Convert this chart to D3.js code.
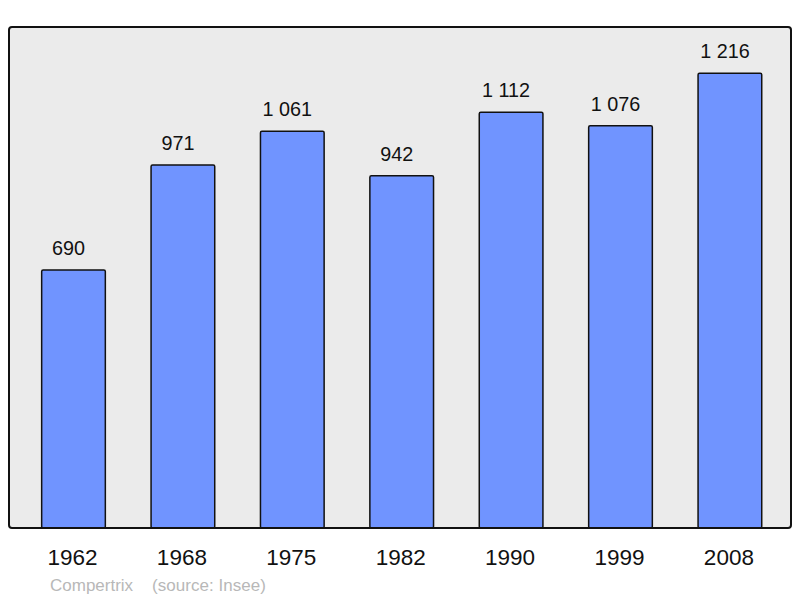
<!DOCTYPE html>
<html><head><meta charset="utf-8">
<script src="https://cdn.jsdelivr.net/npm/d3@7"></script>
<style>body{margin:0;background:#fff}svg{display:block}</style>
</head><body>
<svg id="c" width="800" height="598"></svg>
<script>
const years = ["1962","1968","1975","1982","1990","1999","2008"];
const population = [690, 971, 1061, 942, 1112, 1076, 1216];
const credits = ["Compertrix", "(source: Insee)"];

const svg = d3.select("#c");
const frame = {x0: 9, y0: 27, x1: 791, y1: 528};
const fmt = v => d3.format(",")(v).replace(/,/g, " ");

svg.append("rect").attr("x", frame.x0).attr("y", frame.y0)
  .attr("width", frame.x1 - frame.x0).attr("height", frame.y1 - frame.y0)
  .attr("rx", 3).attr("fill", "#ebebeb");

const x = d3.scaleBand().domain(years).range([18.8, 784.6]).paddingInner(0.418).paddingOuter(0.209);
const y = d3.scaleLinear().domain([0, 1340]).range([frame.y1, frame.y0]);

svg.selectAll("rect.bar").data(years).enter().append("rect")
  .attr("class", "bar")
  .attr("x", d => x(d)).attr("width", x.bandwidth())
  .attr("y", (d, i) => y(population[i])).attr("height", (d, i) => y(0) - y(population[i]))
  .attr("rx", 1.5)
  .attr("fill", "#7094ff").attr("stroke", "#111").attr("stroke-width", 1.5);

svg.selectAll("text.val").data(years).enter().append("text")
  .attr("x", d => x(d) + x.bandwidth() / 2 - 5)
  .attr("y", (d, i) => y(population[i]) - 15)
  .attr("text-anchor", "middle")
  .attr("font-family", "Liberation Sans, Arial, sans-serif").attr("font-size", 19.8)
  .attr("fill", "#111").text((d, i) => fmt(population[i]));

// axis labels
const ax = svg.append("g").attr("transform", `translate(0,${frame.y1})`)
  .call(d3.axisBottom(x).tickSize(0).tickPadding(0));
ax.select(".domain").remove();
ax.selectAll("text").attr("dy", 0).attr("y", 37).attr("x", -1)
  .attr("font-family", "Liberation Sans, Arial, sans-serif").attr("font-size", 22.5).attr("fill", "#111");

// frame border
svg.append("rect").attr("x", frame.x0).attr("y", frame.y0)
  .attr("width", frame.x1 - frame.x0).attr("height", frame.y1 - frame.y0)
  .attr("rx", 3).attr("fill", "none").attr("stroke", "#111").attr("stroke-width", 2);

svg.append("text").attr("x", 50).attr("y", 590.5)
  .attr("font-family", "Liberation Sans, Arial, sans-serif").attr("font-size", 17)
  .attr("fill", "#b8b8b8").text(credits[0]);
svg.append("text").attr("x", 152).attr("y", 590.5)
  .attr("font-family", "Liberation Sans, Arial, sans-serif").attr("font-size", 17)
  .attr("fill", "#b8b8b8").attr("textLength", 114).text(credits[1]);
</script>
</body></html>
